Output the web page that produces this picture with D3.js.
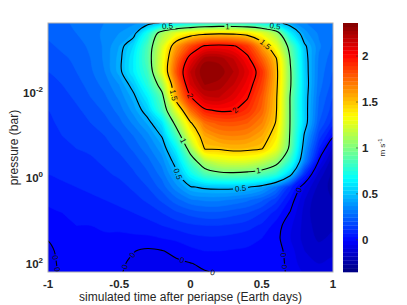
<!DOCTYPE html>
<html>
<head>
<meta charset="utf-8">
<script src="https://cdn.jsdelivr.net/npm/d3@7"></script>
<style>
  body { margin: 0; background: #fff; }
  text { font-family: "Liberation Sans", Arial, Helvetica, sans-serif; }
</style>
</head>
<body>
<svg id="chart" width="407" height="305"></svg>
<script>
// grid columns: simulated time after periapse (Earth days)
const timeDays = [-1, -0.9, -0.8, -0.7, -0.6, -0.5, -0.4, -0.3, -0.2, -0.1, 0, 0.1, 0.2, 0.3, 0.4, 0.5, 0.6, 0.7, 0.8, 0.9, 1];
// grid rows: log10 of pressure (bar), top to bottom
const logPressure = [-3.7, -3.4, -3.1, -2.8, -2.5, -2.2, -1.9, -1.6, -1.3, -1.0, -0.7, -0.4, -0.1, 0.2, 0.5, 0.8, 1.1, 1.4, 1.7, 2.0, 2.3];
// wind (m s^-1), one row per pressure level
const windSpeed = [
  [0.27,0.29,0.31,0.33,0.35,0.36,0.37,0.37,0.38,0.43,0.49,0.56,0.59,0.59,0.57,0.52,0.42,0.38,0.35,0.32,0.30],
  [0.26,0.28,0.30,0.33,0.36,0.40,0.45,0.75,1.12,1.30,1.40,1.45,1.47,1.46,1.42,1.30,1.12,0.66,0.42,0.34,0.30],
  [0.24,0.26,0.28,0.31,0.36,0.45,0.60,0.88,1.25,1.62,1.85,2.02,2.05,2.02,1.90,1.62,1.32,0.92,0.52,0.36,0.29],
  [0.22,0.24,0.26,0.30,0.36,0.47,0.65,0.90,1.30,1.75,2.08,2.28,2.28,2.20,2.04,1.80,1.52,0.99,0.55,0.34,0.27],
  [0.20,0.22,0.25,0.29,0.35,0.47,0.65,0.85,1.30,1.82,2.20,2.35,2.33,2.25,2.12,1.92,1.56,1.02,0.56,0.33,0.25],
  [0.18,0.20,0.23,0.27,0.32,0.40,0.55,0.78,1.10,1.70,2.15,2.30,2.28,2.20,2.07,1.88,1.55,1.02,0.57,0.32,0.23],
  [0.16,0.18,0.21,0.25,0.29,0.36,0.47,0.66,0.93,1.60,1.99,2.18,2.20,2.12,2.01,1.82,1.53,0.99,0.56,0.30,0.20],
  [0.15,0.17,0.19,0.22,0.26,0.32,0.42,0.56,0.85,1.30,1.76,1.98,2.02,2.01,1.93,1.78,1.52,0.99,0.56,0.28,0.17],
  [0.14,0.16,0.18,0.20,0.23,0.28,0.36,0.46,0.62,1.08,1.48,1.75,1.82,1.83,1.80,1.70,1.49,0.99,0.56,0.25,0.12],
  [0.13,0.15,0.16,0.18,0.20,0.24,0.30,0.38,0.51,0.86,1.32,1.60,1.68,1.70,1.68,1.60,1.42,0.98,0.48,0.18,0.02],
  [0.12,0.13,0.15,0.16,0.18,0.21,0.26,0.33,0.43,0.67,1.10,1.51,1.52,1.55,1.54,1.51,1.32,0.95,0.42,0.10,-0.12],
  [0.11,0.12,0.13,0.14,0.16,0.18,0.22,0.28,0.37,0.55,0.88,1.15,1.25,1.28,1.27,1.20,1.08,0.80,0.35,-0.01,-0.20],
  [0.10,0.11,0.12,0.13,0.14,0.16,0.19,0.24,0.32,0.47,0.70,0.88,0.95,0.96,0.94,0.90,0.80,0.55,0.12,-0.12,-0.22],
  [0.08,0.09,0.10,0.11,0.12,0.13,0.16,0.20,0.27,0.38,0.49,0.52,0.53,0.53,0.51,0.45,0.33,0.12,-0.05,-0.17,-0.22],
  [0.06,0.07,0.08,0.09,0.10,0.11,0.13,0.16,0.21,0.28,0.34,0.36,0.36,0.34,0.31,0.26,0.17,0.04,-0.10,-0.20,-0.20],
  [0.04,0.05,0.06,0.07,0.08,0.09,0.10,0.12,0.15,0.19,0.22,0.24,0.24,0.22,0.20,0.15,0.08,-0.005,-0.12,-0.20,-0.18],
  [0.02,0.04,0.05,0.05,0.06,0.06,0.07,0.08,0.10,0.12,0.14,0.15,0.15,0.14,0.12,0.09,0.03,-0.04,-0.12,-0.18,-0.16],
  [0.005,0.03,0.04,0.04,0.04,0.04,0.04,0.04,0.05,0.06,0.08,0.09,0.09,0.08,0.07,0.05,0.02,-0.05,-0.12,-0.16,-0.14],
  [-0.02,0.025,0.03,0.03,0.025,0.015,0.002,-0.01,-0.003,0.015,0.035,0.05,0.05,0.045,0.04,0.03,0.03,-0.03,-0.10,-0.13,-0.12],
  [-0.03,0.02,0.025,0.025,0.02,0.008,-0.01,-0.02,-0.02,-0.012,-0.003,0.01,0.02,0.025,0.025,0.02,0.03,-0.02,-0.08,-0.10,-0.08],
  [-0.04,0.015,0.02,0.02,0.015,0.003,-0.015,-0.025,-0.03,-0.025,-0.015,-0.01,-0.005,0.015,0.02,0.02,0.015,-0.01,-0.05,-0.06,-0.03]
];
const colorLimits = [-0.35, 2.36];
const lineLevels = [0, 0.5, 1, 1.5, 2];
const xTicks = [-1, -0.5, 0, 0.5, 1];
const yTickExponents = [-2, 0, 2];
const colorbarTicks = [0, 0.5, 1, 1.5, 2];
// approximate spots of the contour labels: [level, time, log10 pressure]
const labelSpots = [
  [0.5, -0.16, -3.59], [1, 0.26, -3.52], [0.5, 0.59, -3.59], [1.5, 0.52, -3.12],
  [1.5, -0.12, -1.95], [2, 0.01, -1.95], [2, 0.33, -1.51], [1, -0.07, -0.85],
  [1, 0.47, -0.34], [0.5, -0.11, -0.08], [0.5, 0.35, 0.18], [0, 0.76, 0.27],
  [0, -0.965, 1.86], [0, -0.965, 2.14], [0, -0.43, 1.74], [0, -0.46, 2.07],
  [0, -0.06, 1.91], [0, 0.16, 2.14], [0, 0.65, 1.79], [0, 0.67, 2.07]
];

const svg = d3.select("#chart");
const plot = { left: 48, right: 333, top: 23, bottom: 272 };
const x = d3.scaleLinear().domain([-1, 1]).range([plot.left, plot.right]);
const y = d3.scaleLog().domain([Math.pow(10, -3.64), Math.pow(10, 2.19)]).range([plot.top, plot.bottom]);

function jet(v) {
  const f = (v - colorLimits[0]) / (colorLimits[1] - colorLimits[0]);
  const c = k => Math.round(255 * Math.max(0, Math.min(1, 1.5 - Math.abs(4 * f - k))));
  return `rgb(${c(3)},${c(2)},${c(1)})`;
}

const nx = timeDays.length, ny = logPressure.length;
const values = windSpeed.flat();
const dt = timeDays[1] - timeDays[0];
const dl = logPressure[1] - logPressure[0];
const gx = c => x(timeDays[0] + (c - 0.5) * dt);
const gy = c => y(Math.pow(10, logPressure[0] + (c - 0.5) * dl));

// rings in pixel space, drawn as smooth closed curves
const ringGen = d3.line().curve(d3.curveCatmullRomClosed.alpha(0.5));
const toPixels = ring => ring.slice(0, -1).map(([a, b]) => [gx(a), gy(b)]);
const contourPath = d => d.coordinates.map(poly => poly.map(ring => ringGen(toPixels(ring))).join("")).join("");

const defs = svg.append("defs");
defs.append("clipPath").attr("id", "plotclip").append("rect")
  .attr("x", plot.left).attr("y", plot.top)
  .attr("width", plot.right - plot.left).attr("height", plot.bottom - plot.top);

const g = svg.append("g").attr("clip-path", "url(#plotclip)");
g.append("rect")
  .attr("x", plot.left).attr("y", plot.top)
  .attr("width", plot.right - plot.left).attr("height", plot.bottom - plot.top)
  .attr("fill", jet(colorLimits[0]));

// filled bands
const fillLevels = d3.range(colorLimits[0], colorLimits[1], 0.05).map(v => Math.round(v * 100) / 100);
const bands = d3.contours().size([nx, ny]).thresholds(fillLevels)(values);
g.selectAll("path.band").data(bands).join("path")
  .attr("class", "band")
  .attr("d", contourPath)
  .attr("fill", d => jet(d.value))
  .attr("stroke", d => jet(d.value))
  .attr("stroke-width", 0.6);

// contour lines
const lines = d3.contours().size([nx, ny]).thresholds(lineLevels)(values);

// snap labels onto the lines
const placed = [];
labelSpots.forEach(([lev, t, lp]) => {
  const cont = lines.find(c => Math.abs(c.value - lev) < 1e-9);
  if (!cont) return;
  const hx = x(t), hy = y(Math.pow(10, lp));
  let best = null;
  cont.coordinates.forEach(poly => poly.forEach(ring => {
    const pts = toPixels(ring);
    for (let i = 0; i < pts.length; i++) {
      const [ax, ay] = pts[i];
      const [bx, by] = pts[(i + 1) % pts.length];
      const vx = bx - ax, vy = by - ay;
      const len2 = vx * vx + vy * vy || 1e-9;
      const s = Math.max(0, Math.min(1, ((hx - ax) * vx + (hy - ay) * vy) / len2));
      const px = ax + s * vx, py = ay + s * vy;
      const dist = Math.hypot(px - hx, py - hy);
      if (!best || dist < best.dist) best = { dist, px, py, ang: Math.atan2(vy, vx) * 180 / Math.PI };
    }
  }));
  if (!best || best.dist > 16) return;
  let a = best.ang;
  if (a > 90) a -= 180;
  if (a < -90) a += 180;
  placed.push({ text: String(lev), x: best.px, y: Math.max(best.py, plot.top + 3), a });
});

const mask = defs.append("mask").attr("id", "labelgap")
  .attr("maskUnits", "userSpaceOnUse").attr("x", 0).attr("y", 0).attr("width", 407).attr("height", 305);
mask.append("rect").attr("width", 407).attr("height", 305).attr("fill", "#fff");
mask.selectAll("rect.gap").data(placed).join("rect")
  .attr("class", "gap")
  .attr("x", d => -(d.text.length * 4.4 + 2) / 2).attr("y", -3.5)
  .attr("width", d => d.text.length * 4.4 + 2).attr("height", 7)
  .attr("transform", d => `translate(${d.x},${d.y}) rotate(${d.a})`)
  .attr("fill", "#000");

g.append("g").attr("mask", "url(#labelgap)")
  .selectAll("path").data(lines).join("path")
  .attr("d", contourPath)
  .attr("fill", "none")
  .attr("stroke", "#000")
  .attr("stroke-width", 1.1);

// axes box
svg.append("rect")
  .attr("x", plot.left).attr("y", plot.top)
  .attr("width", plot.right - plot.left).attr("height", plot.bottom - plot.top)
  .attr("fill", "none").attr("stroke", "#b0b0b0").attr("stroke-width", 1);

svg.selectAll("text.clabel").data(placed).join("text")
  .attr("class", "clabel")
  .attr("transform", d => `translate(${d.x},${d.y}) rotate(${d.a})`)
  .attr("text-anchor", "middle")
  .attr("dy", "0.35em")
  .attr("font-size", 8)
  .attr("fill", "#111")
  .text(d => d.text);

svg.selectAll("text.xtick").data(xTicks).join("text")
  .attr("class", "xtick")
  .attr("x", d => x(d)).attr("y", 288)
  .attr("text-anchor", "middle")
  .attr("font-size", 11.5).attr("font-weight", "bold").attr("fill", "#262626")
  .text(d => String(d));

const yt = svg.selectAll("text.ytick").data(yTickExponents).join("text")
  .attr("class", "ytick")
  .attr("x", 43).attr("y", d => y(Math.pow(10, d)) + 4)
  .attr("text-anchor", "end")
  .attr("font-size", 11.5).attr("font-weight", "bold").attr("fill", "#262626");
yt.append("tspan").text("10");
yt.append("tspan").attr("dy", -5).attr("font-size", 8).text(d => String(d));

svg.append("text")
  .attr("x", (plot.left + plot.right) / 2).attr("y", 301)
  .attr("text-anchor", "middle").attr("font-size", 12).attr("fill", "#262626")
  .text("simulated time after periapse (Earth days)");

svg.append("text")
  .attr("transform", `translate(18,${(plot.top + plot.bottom) / 2}) rotate(-90)`)
  .attr("text-anchor", "middle").attr("font-size", 12).attr("fill", "#262626")
  .text("pressure (bar)");

// colorbar
const cb = { left: 343, width: 15 };
const cy = d3.scaleLinear().domain(colorLimits).range([plot.bottom, plot.top]);
const cbSteps = d3.range(64);
const stepH = (plot.bottom - plot.top) / 64;
svg.append("g").selectAll("rect").data(cbSteps).join("rect")
  .attr("x", cb.left).attr("width", cb.width)
  .attr("y", i => plot.bottom - (i + 1) * stepH).attr("height", stepH + 0.3)
  .attr("fill", i => jet(colorLimits[0] + (i + 0.5) / 64 * (colorLimits[1] - colorLimits[0])));
svg.append("g").selectAll("line").data(colorbarTicks).join("line")
  .attr("x1", cb.left + cb.width - 2).attr("x2", cb.left + cb.width)
  .attr("y1", d => cy(d)).attr("y2", d => cy(d))
  .attr("stroke", "#333").attr("stroke-width", 0.6);
svg.selectAll("text.cbtick").data(colorbarTicks).join("text")
  .attr("class", "cbtick")
  .attr("x", 362).attr("y", d => cy(d) + 4)
  .attr("font-size", 11.5).attr("font-weight", "bold").attr("fill", "#262626")
  .text(d => String(d));

const unit = svg.append("text")
  .attr("transform", `translate(385,${(plot.top + plot.bottom) / 2}) rotate(-90)`)
  .attr("text-anchor", "middle").attr("font-size", 8).attr("fill", "#262626");
unit.append("tspan").text("m s");
unit.append("tspan").attr("dy", -3).attr("font-size", 6).text("-1");
</script>
</body>
</html>
